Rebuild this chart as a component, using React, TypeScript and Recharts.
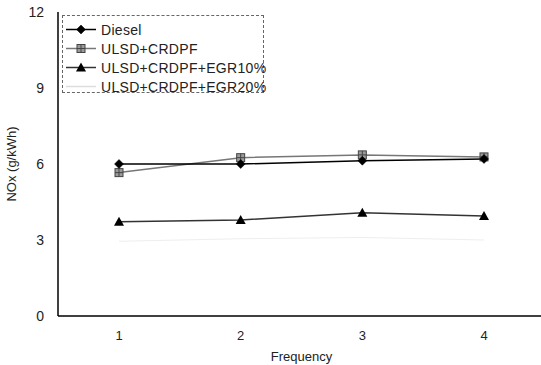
import React from 'react';
import { LineChart, Line, XAxis, YAxis, Legend, Label } from 'recharts';

const categories = ['1', '2', '3', '4'];
const diesel = [6.0, 6.0, 6.13, 6.2];
const crdpf = [5.66, 6.25, 6.36, 6.28];
const egr10 = [3.72, 3.79, 4.08, 3.95];
const egr20 = [2.95, 3.05, 3.1, 3.0];
const yTicks = [0, 3, 6, 9, 12];
const seriesNames = ['Diesel', 'ULSD+CRDPF', 'ULSD+CRDPF+EGR10%', 'ULSD+CRDPF+EGR20%'];

const data = categories.map((c, i) => ({
  freq: c,
  diesel: diesel[i],
  crdpf: crdpf[i],
  egr10: egr10[i],
  egr20: egr20[i],
}));

const FONT = '"Liberation Sans", Arial, sans-serif';

const drawDiamond = (cx: number, cy: number, key?: any) => (
  <path key={key} d={`M${cx},${cy - 4.5}L${cx + 4.5},${cy}L${cx},${cy + 4.5}L${cx - 4.5},${cy}Z`} fill="#000" stroke="#000" strokeWidth={0.5} />
);
const drawSquare = (cx: number, cy: number, key?: any) => (
  <g key={key}>
    <rect x={cx - 4} y={cy - 4} width={8} height={8} fill="#9a9a9a" stroke="#444" strokeWidth={1} />
    <path d={`M${cx},${cy - 4}V${cy + 4}M${cx - 4},${cy}H${cx + 4}`} stroke="#444" strokeWidth={1} />
  </g>
);
const drawTriangle = (cx: number, cy: number, key?: any) => (
  <path key={key} d={`M${cx},${cy - 5}L${cx + 5},${cy + 4}L${cx - 5},${cy + 4}Z`} fill="#000" />
);

const DieselDot = (p: any) => (p.cx == null ? null : drawDiamond(p.cx, p.cy, p.index));
const SquareDot = (p: any) => (p.cx == null ? null : drawSquare(p.cx, p.cy, p.index));
const TriDot = (p: any) => (p.cx == null ? null : drawTriangle(p.cx, p.cy, p.index));

const LegendContent = () => {
  const rows = [
    { stroke: '#000', marker: drawDiamond },
    { stroke: '#777', marker: drawSquare },
    { stroke: '#333', marker: drawTriangle },
    { stroke: '#ddd', marker: null as any },
  ];
  return (
    <div
      style={{
        width: 202,
        height: 78,
        border: '1px dashed #666',
        background: '#fff',
        fontFamily: FONT,
        fontSize: 14,
        color: '#222',
        boxSizing: 'border-box',
        paddingTop: 4,
      }}
    >
      {rows.map((r, i) => (
        <div key={i} style={{ display: 'flex', alignItems: 'center', height: 19 }}>
          <svg width={38} height={19} style={{ flex: 'none' }}>
            <line x1={3} y1={9.5} x2={33} y2={9.5} stroke={r.stroke} strokeWidth={1.5} />
            {r.marker ? r.marker(18, 9.5) : null}
          </svg>
          <span style={{ whiteSpace: 'nowrap', letterSpacing: 0.3 }}>{seriesNames[i]}</span>
        </div>
      ))}
    </div>
  );
};

export default function App() {
  return (
    <div style={{ position: 'absolute', left: 0, top: 0, width: 541, height: 365, overflow: 'hidden', background: '#fff' }}>
      <LineChart width={545} height={365} data={data} margin={{ top: 12, right: 0, left: 0, bottom: 0 }}>
        <XAxis
          dataKey="freq"
          height={49}
          padding={{ left: 61, right: 61 }}
          axisLine={{ stroke: '#000', strokeWidth: 1.5 }}
          tickLine={false}
          tickMargin={9}
          tick={{ fill: '#222', fontSize: 13, fontFamily: FONT }}
        >
          <Label value="Frequency" position="insideBottom" offset={4} style={{ fill: '#222', fontSize: 13, fontFamily: FONT }} />
        </XAxis>
        <XAxis xAxisId="top" dataKey="freq" orientation="top" height={0} tick={false} tickLine={false} axisLine={{ stroke: '#000', strokeWidth: 1.5 }} />
        <YAxis
          width={58}
          domain={[0, 12]}
          ticks={yTicks}
          axisLine={{ stroke: '#000', strokeWidth: 1.5 }}
          tickLine={false}
          tickMargin={8}
          tick={{ fill: '#222', fontSize: 14, fontFamily: FONT }}
        >
          <Label value="NOx (g/kWh)" angle={-90} position="insideLeft" offset={11} style={{ fill: '#222', fontSize: 13, fontFamily: FONT, textAnchor: 'middle' }} />
        </YAxis>
        <Legend
          layout="vertical"
          align="center"
          verticalAlign="middle"
          content={<LegendContent />}
          wrapperStyle={{ position: 'absolute', left: 62, top: 15, width: 202, height: 78 }}
        />
        <Line dataKey="egr20" name={seriesNames[3]} stroke="#eeeeee" strokeWidth={1} dot={false} isAnimationActive={false} />
        <Line dataKey="egr10" name={seriesNames[2]} stroke="#333" strokeWidth={1.5} dot={TriDot} isAnimationActive={false} />
        <Line dataKey="crdpf" name={seriesNames[1]} stroke="#777" strokeWidth={1.5} dot={SquareDot} isAnimationActive={false} />
        <Line dataKey="diesel" name={seriesNames[0]} stroke="#000" strokeWidth={1.5} dot={DieselDot} isAnimationActive={false} />
      </LineChart>
    </div>
  );
}
